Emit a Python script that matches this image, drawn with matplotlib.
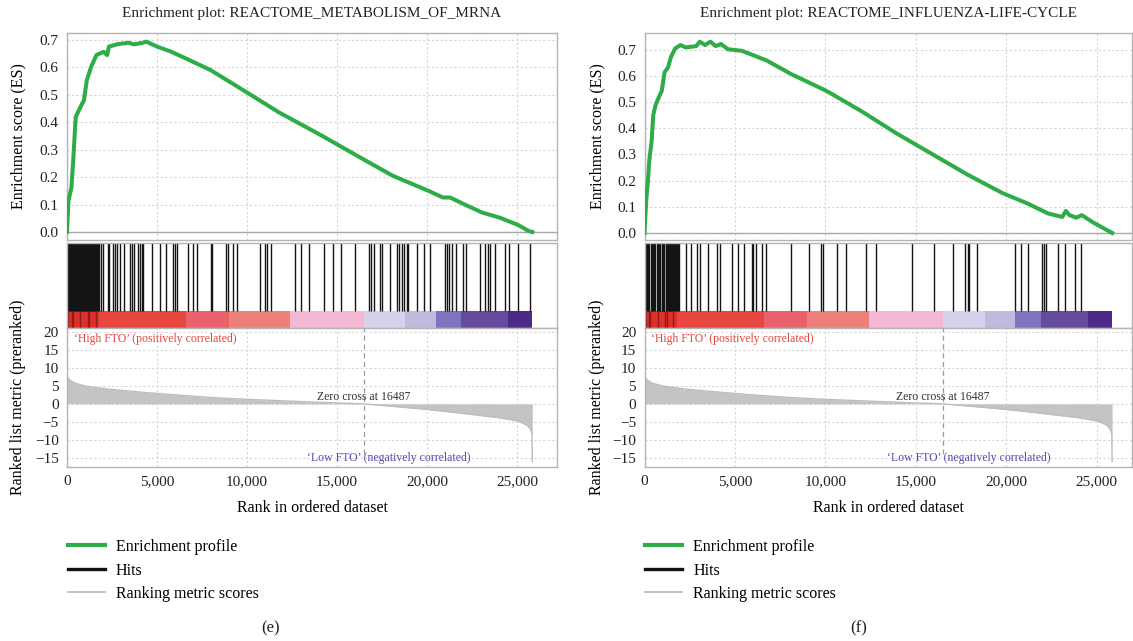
import matplotlib
matplotlib.use("Agg")
import matplotlib.pyplot as plt
from matplotlib.lines import Line2D

plt.rcParams["font.family"] = ["Liberation Serif", "DejaVu Serif"]

# ---- data ----
titles = [
    "Enrichment plot: REACTOME_METABOLISM_OF_MRNA",
    "Enrichment plot: REACTOME_INFLUENZA-LIFE-CYCLE",
]
panel_tags = ["(e)", "(f)"]

# running enrichment score, left panel
es_rank_mrna = [0, 79, 246, 345, 484, 742, 940, 1100, 1340, 1635, 2032, 2230, 2330,
                2825, 3420, 3720, 4215, 4412, 5000, 5800, 6595, 7984, 9967, 11754,
                14135, 16120, 18100, 20090, 20880, 21280, 22070, 23065, 24060,
                25050, 25645, 25850]
es_mrna = [0.0, 0.114, 0.162, 0.26, 0.419, 0.455, 0.48, 0.553, 0.602, 0.645, 0.657,
           0.645, 0.676, 0.685, 0.69, 0.684, 0.69, 0.694, 0.676, 0.657, 0.633, 0.59,
           0.51, 0.437, 0.352, 0.278, 0.205, 0.15, 0.126, 0.126, 0.101, 0.071, 0.052,
           0.026, 0.004, 0.0]

# running enrichment score, right panel
es_rank_flu = [0, 97, 195, 272, 389, 486, 623, 817, 953, 1109, 1304, 1459, 1693,
               1985, 2277, 2861, 3055, 3347, 3639, 3931, 4223, 4612, 5390, 6169,
               6753, 8115, 10061, 12007, 13953, 15899, 17845, 19791, 21153, 21543,
               22321, 23099, 23294, 23488, 23877, 24169, 24850, 25850]
es_flu = [0.0, 0.126, 0.204, 0.282, 0.347, 0.451, 0.49, 0.522, 0.542, 0.613, 0.632,
          0.671, 0.704, 0.717, 0.708, 0.713, 0.73, 0.717, 0.73, 0.713, 0.721, 0.701,
          0.695, 0.674, 0.658, 0.606, 0.542, 0.464, 0.379, 0.301, 0.223, 0.152,
          0.113, 0.1, 0.074, 0.061, 0.084, 0.068, 0.058, 0.068, 0.038, 0.0]

# gene set hits (rank positions)
hits_mrna = [0, 40, 95, 130, 180, 230, 265, 310, 360, 400, 445, 490, 540, 580, 620,
             670, 720, 760, 800, 850, 900, 940, 985, 1030, 1080, 1120, 1160, 1210,
             1250, 1300, 1345, 1390, 1430, 1480, 1520, 1570, 1610, 1660, 1700, 1750,
             1907, 2000, 2259, 2352, 2537, 2648, 2778, 2944, 3167, 3500, 3611, 3722,
             3926, 4037, 4148, 4241, 4722, 5167, 5500, 5907, 6019, 6093, 6722, 7000,
             7204, 7981, 8074, 8815, 8926, 9222, 9444, 10741, 11000, 11093, 11315,
             12648, 13019, 13463, 14278, 14796, 15222, 16019, 16759, 16889, 17074,
             17389, 17519, 17944, 18315, 18463, 18593, 18722, 18870, 18963, 19426,
             19852, 20167, 21000, 21111, 21204, 21370, 21593, 21981, 22148, 22944,
             23222, 23370, 23500, 23759, 24333, 24574, 25074, 25722]
hits_flu = [20, 70, 120, 170, 215, 250, 365, 410, 455, 510, 555, 680, 720, 765, 810,
            840, 950, 990, 1035, 1080, 1100, 1210, 1250, 1295, 1340, 1385, 1430,
            1475, 1520, 1565, 1610, 1655, 1700, 1745, 1790, 1835, 1925, 2294, 2552,
            2884, 3068, 3529, 3990, 4174, 4856, 5188, 5519, 5925, 6016, 6145, 6477,
            6717, 8081, 9077, 9757, 9885, 10624, 11122, 12244, 12800, 14770, 15987,
            17037, 17717, 17900, 17955, 18397, 20481, 20813, 21183, 21990, 22067,
            22178, 22875, 23245, 23798, 24113]

# ranked list metric (shared ranked list)
metric_rank = [0, 148, 440, 1040, 2230, 4215, 6200, 8175, 10170, 12150, 14130, 16487,
               18100, 20090, 22070, 24060, 25050, 25545, 25744, 25833, 25850]
metric = [7.5, 6.6, 5.7, 4.9, 4.1, 3.2, 2.4, 1.7, 1.2, 0.8, 0.4, 0.0, -0.7, -1.6,
          -2.7, -3.9, -4.75, -5.9, -7.0, -8.3, -16.0]
zero_cross = 16487

# heat bar blocks along the ranked list
cbar_edges = [0, 1800, 6600, 9000, 12400, 16500, 18800, 20500, 21900, 24500, 25850]
cbar_colors = ["#e0302c", "#e8473f", "#e8626c", "#ef8079", "#f4b7d4", "#d6d2ec",
               "#c2b9de", "#7d74bd", "#664a9e", "#4b2a8a"]
cbar_dark = [60, 250, 330, 720, 1150, 1220, 1600]

W, H = 1133, 641


def px_box(x0, y0, x1, y1):
    return [x0 / W, 1 - y1 / H, (x1 - x0) / W, (y1 - y0) / H]


def style_axes(ax):
    for s in ax.spines.values():
        s.set_color("#b4b4b4")
        s.set_linewidth(1.0)
    ax.tick_params(length=0, labelsize=11, pad=6, colors="#222222")


def draw_panel(fig, x0, x1, xmax, es_ylim, title, es_rank, es_vals, hits, tag, tag_x):
    grid_kw = dict(color="#d6d6d6", linestyle=(0, (2, 2)), linewidth=0.8)
    xt = [0, 5000, 10000, 15000, 20000, 25000]
    w = x1 - x0
    label_x = (26 - x0) / w if x0 < 300 else (605 - x0) / w

    # enrichment score
    ax_es = fig.add_axes(px_box(x0, 33, x1, 240))
    style_axes(ax_es)
    ax_es.set_xlim(0, xmax)
    ax_es.set_ylim(*es_ylim)
    ax_es.set_xticks(xt)
    ax_es.set_xticklabels([])
    ax_es.set_yticks([0.0, 0.1, 0.2, 0.3, 0.4, 0.5, 0.6, 0.7])
    ax_es.set_yticklabels(["%.1f" % v for v in ax_es.get_yticks()])
    ax_es.grid(True, **grid_kw)
    ax_es.set_axisbelow(True)
    ax_es.axhline(0, color="#a8a8a8", lw=1.0, zorder=1)
    ax_es.plot(es_rank, es_vals, color="#2eac48", lw=2.9, zorder=3)
    ax_es.set_ylabel("Enrichment score (ES)", fontsize=11.5)
    ax_es.yaxis.set_label_coords(label_x, 0.5)
    fig.text((x0 + x1) / 2 / W, 1 - 14 / H, title, ha="center", va="center",
             fontsize=11, color="#222222")

    # hits + heat bar
    ax_h = fig.add_axes(px_box(x0, 243, x1, 328))
    style_axes(ax_h)
    ax_h.set_xlim(0, xmax)
    ax_h.set_ylim(0, 1)
    ax_h.set_xticks([])
    ax_h.set_yticks([])
    ax_h.vlines(hits, 0.2, 1, color="#141414", lw=1.0)
    widths = [b - a for a, b in zip(cbar_edges[:-1], cbar_edges[1:])]
    ax_h.bar(cbar_edges[:-1], 0.2, width=widths, bottom=0, align="edge",
             color=cbar_colors, linewidth=0)
    ax_h.vlines(cbar_dark, 0, 0.2, color="#8e1c1c", lw=1.0)

    # ranked list metric
    ax_m = fig.add_axes(px_box(x0, 328, x1, 467))
    style_axes(ax_m)
    ax_m.set_xlim(0, xmax)
    ax_m.set_ylim(-17.5, 21)
    ax_m.set_xticks(xt)
    ax_m.set_xticklabels(["{:,}".format(v) for v in xt])
    ax_m.set_yticks([20, 15, 10, 5, 0, -5, -10, -15])
    ax_m.grid(True, **grid_kw)
    ax_m.set_axisbelow(True)
    ax_m.fill_between(metric_rank, metric, 0, color="#c4c4c4", lw=0, zorder=2)
    ax_m.plot(metric_rank, metric, color="#bdbdbd", lw=1.0, zorder=2)
    ax_m.vlines(zero_cross, -14, 21, color="#9a9a9a", lw=0.9,
                linestyles=(0, (4, 3)), zorder=3)
    ax_m.text(380, 17.9, "\u2018High FTO\u2019 (positively correlated)",
              color="#e8453c", fontsize=8.5, ha="left", va="center")
    ax_m.text(zero_cross, 2.0, "Zero cross at 16487", color="#333333",
              fontsize=8.5, ha="center", va="center")
    ax_m.text(17900, -15, "\u2018Low FTO\u2019 (negatively correlated)",
              color="#5b45b0", fontsize=8.5, ha="center", va="center")
    ax_m.set_ylabel("Ranked list metric (preranked)", fontsize=11.5)
    ax_m.yaxis.set_label_coords(label_x, 0.5)
    ax_m.set_xlabel("Rank in ordered dataset", fontsize=11.5)
    ax_m.xaxis.set_label_coords(0.5, -(500 - 467) / 139)

    # legend
    handles = [
        Line2D([], [], color="#2eac48", lw=3.0),
        Line2D([], [], color="#111111", lw=2.4),
        Line2D([], [], color="#b8b8b8", lw=1.2),
    ]
    fig.legend(handles, ["Enrichment profile", "Hits", "Ranking metric scores"],
               loc="upper left", bbox_to_anchor=((x0 + 1) / W, 1 - 539 / H),
               frameon=False, fontsize=11.5, borderpad=0, borderaxespad=0,
               handlelength=2.3, handletextpad=0.7, labelspacing=0.47)
    fig.text(tag_x / W, 1 - 628 / H, tag, ha="center", va="center", fontsize=12,
             color="#222222")


if __name__ == "__main__":
    fig = plt.figure(figsize=(W / 100, H / 100), dpi=100)
    draw_panel(fig, 67, 557, 27222, (-0.029, 0.7255), titles[0],
               es_rank_mrna, es_mrna, hits_mrna, panel_tags[0], 271)
    draw_panel(fig, 644.5, 1132, 26950, (-0.027, 0.763), titles[1],
               es_rank_flu, es_flu, hits_flu, panel_tags[1], 859)
    fig.savefig("out.png", dpi=100)
